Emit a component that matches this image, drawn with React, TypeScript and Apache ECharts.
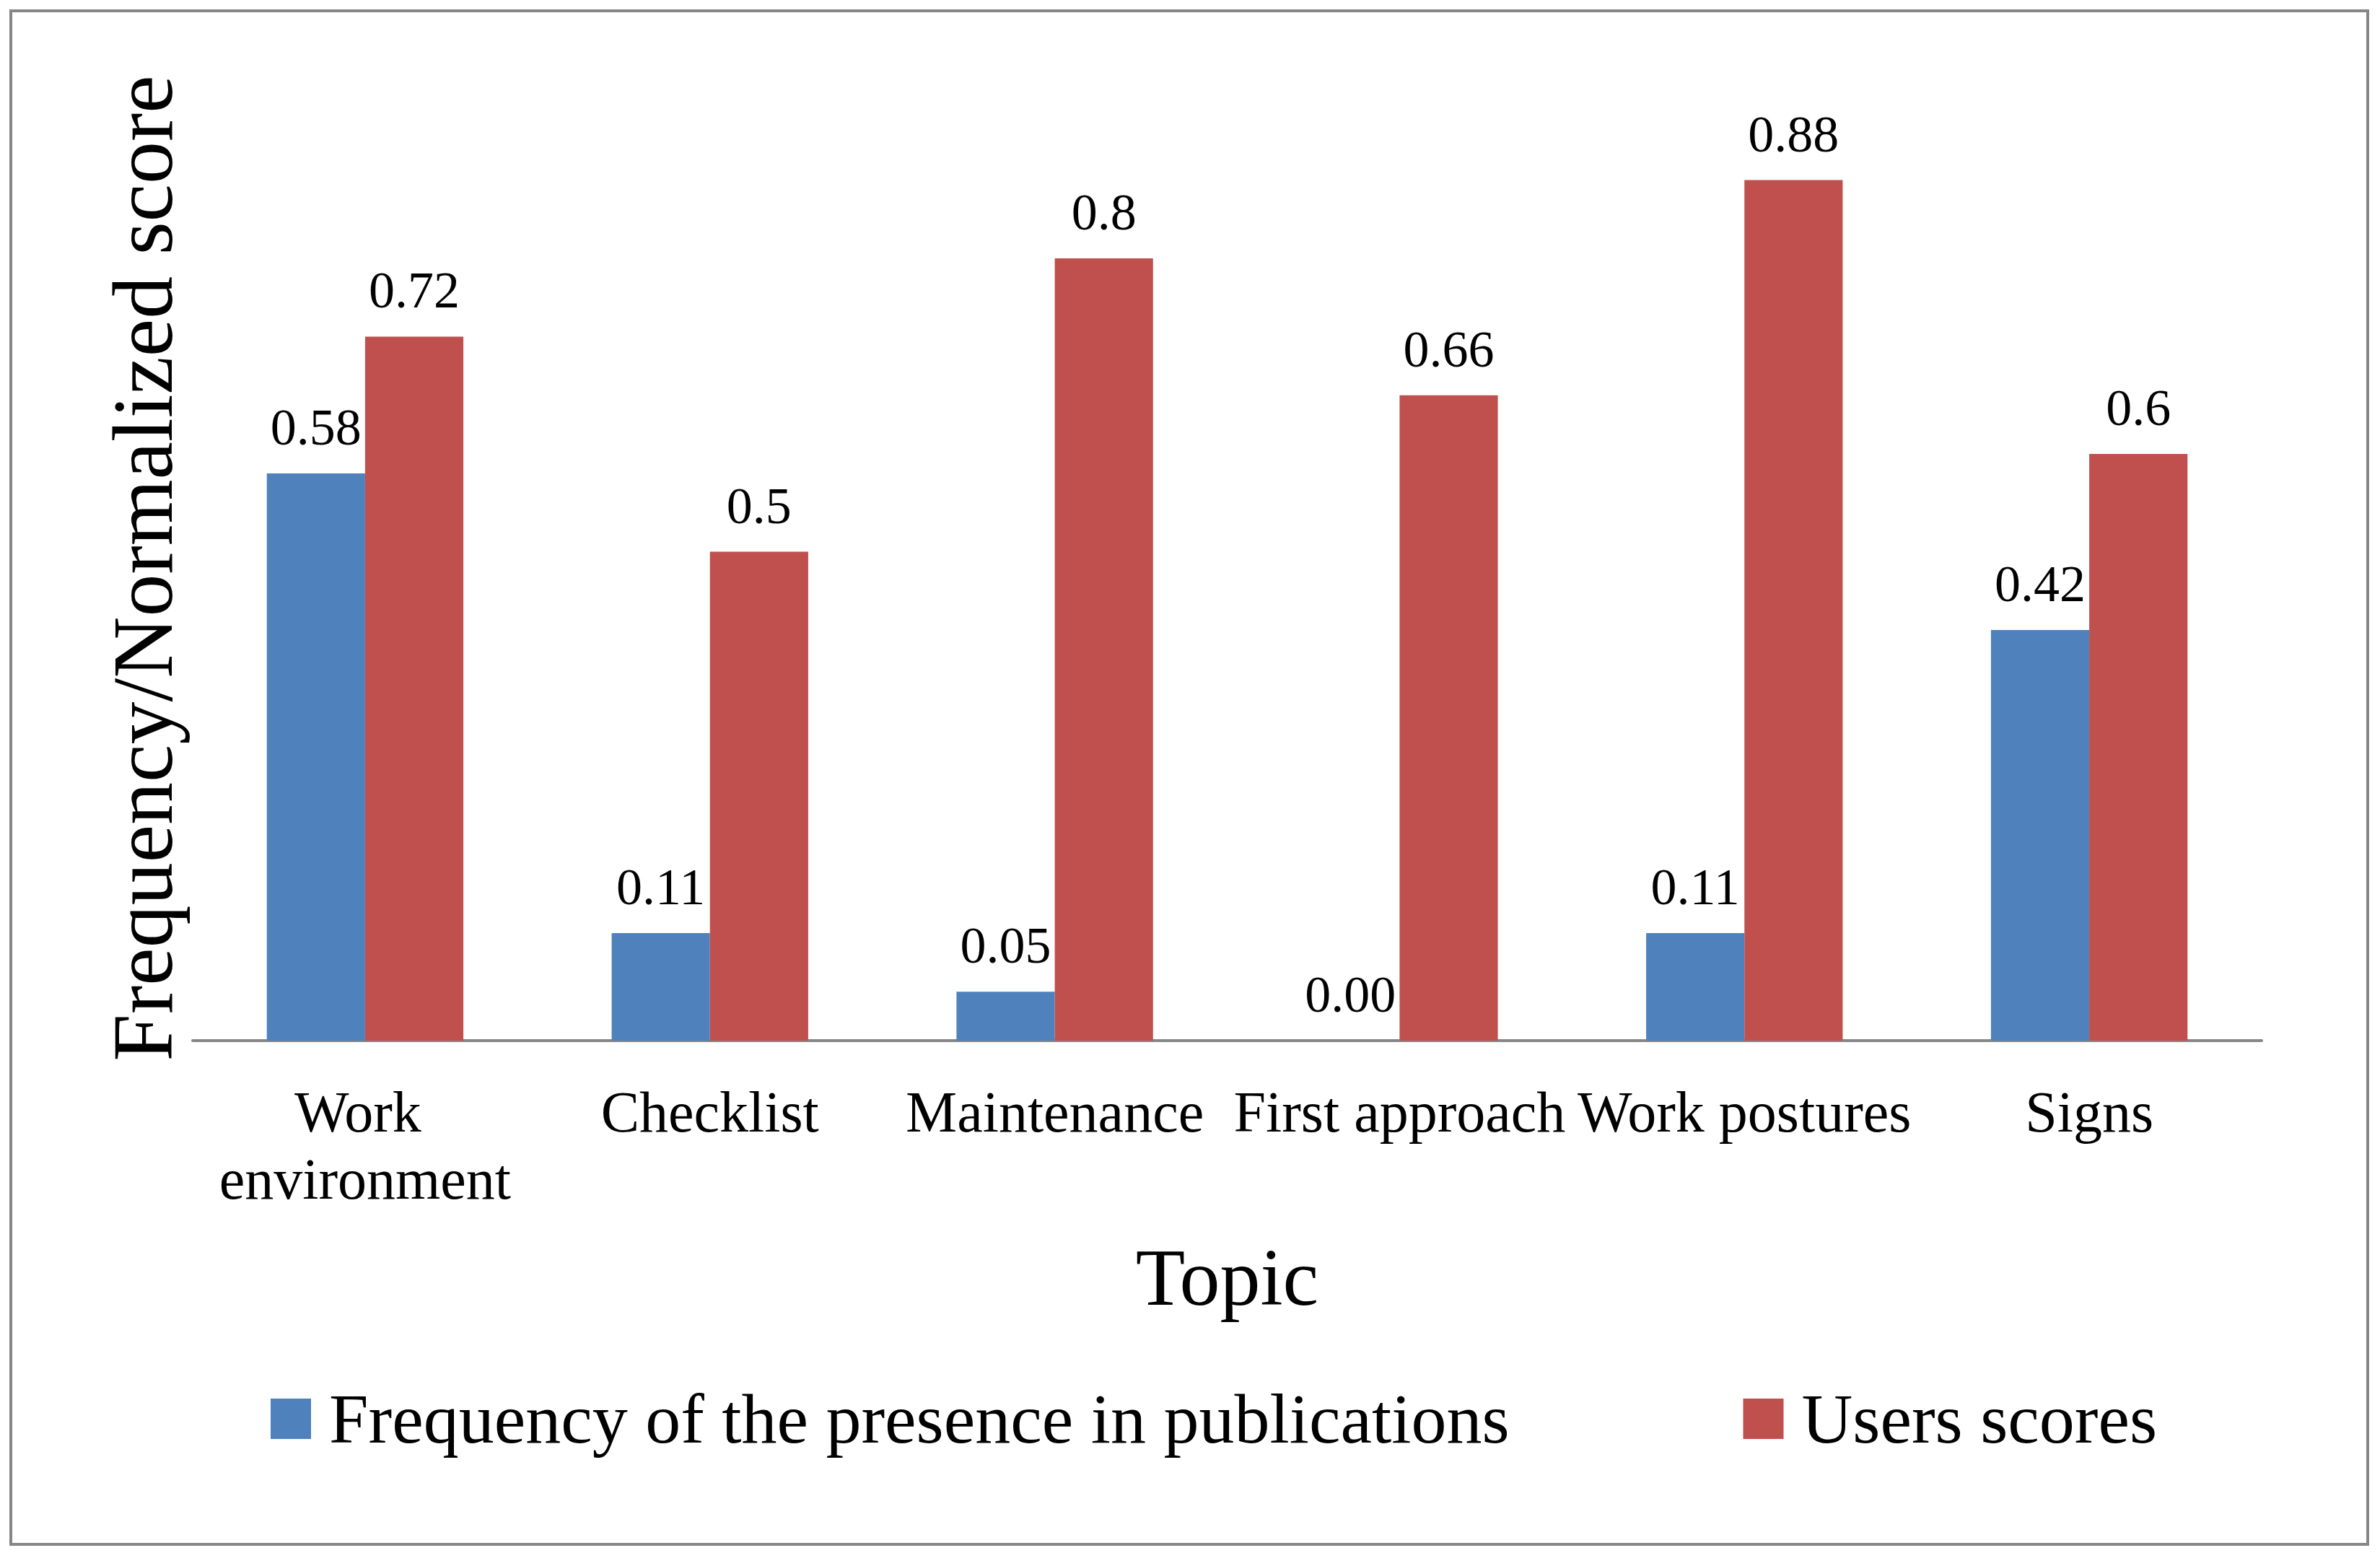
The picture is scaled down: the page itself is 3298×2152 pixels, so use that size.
import React, { useEffect, useRef } from "react";
import * as echarts from "echarts";

const categories = ["Work environment", "Checklist", "Maintenance", "First approach", "Work postures", "Signs"];
const frequencyValues = [0.58, 0.11, 0.05, 0.0, 0.11, 0.42];
const userScores = [0.72, 0.5, 0.8, 0.66, 0.88, 0.6];
const seriesNames = ["Frequency of the presence in publications", "Users scores"];
const xAxisTitle = "Topic";
const yAxisTitle = "Frequency/Normalized score";

const FONT = "'Liberation Serif', 'DejaVu Serif', serif";
const W = 3298;
const H = 2152;

export default function App() {
  const ref = useRef<HTMLDivElement>(null);
  useEffect(() => {
    document.body.style.margin = "0";
    document.body.style.overflow = "hidden";
    const chart = echarts.init(ref.current!, null, { renderer: "svg" });
    chart.setOption({
      animation: false,
      backgroundColor: "#ffffff",
      textStyle: { fontFamily: FONT, color: "#000" },
      graphic: [
        {
          type: "rect",
          shape: { x: 15, y: 15, width: 3266, height: 2125 },
          style: { fill: "none", stroke: "#868686", lineWidth: 4 },
          silent: true,
        },
      ],
      grid: { left: 267, right: 164, top: 87, bottom: 710, containLabel: false },
      legend: {
        left: 370,
        top: 1912,
        itemWidth: 56,
        itemHeight: 56,
        itemGap: 324,
        icon: "rect",
        selectedMode: false,
        textStyle: { fontFamily: FONT, fontSize: 98, color: "#000", padding: [0, 0, 0, 20] },
        data: seriesNames,
      },
      xAxis: {
        type: "category",
        data: categories,
        name: xAxisTitle,
        nameLocation: "middle",
        nameGap: 272,
        nameTextStyle: { fontFamily: FONT, fontSize: 112, color: "#000" },
        axisLine: { show: true, lineStyle: { color: "#868686", width: 4 } },
        axisTick: { show: false },
        axisLabel: {
          interval: 0,
          margin: 52,
          fontFamily: FONT,
          fontSize: 80,
          lineHeight: 93,
          color: "#000",
          width: 500,
          overflow: "break",
          align: "center",
        },
      },
      yAxis: {
        type: "value",
        min: 0,
        max: 1,
        name: yAxisTitle,
        nameLocation: "middle",
        nameGap: 10,
        nameRotate: 90,
        nameTextStyle: { fontFamily: FONT, fontSize: 118, color: "#000", padding: [0, 46, 0, 0] },
        axisLine: { show: false },
        axisTick: { show: false },
        axisLabel: { show: false },
        splitLine: { show: false },
      },
      series: [
        {
          name: seriesNames[0],
          type: "bar",
          data: frequencyValues,
          barGap: "0%",
          barCategoryGap: "43%",
          itemStyle: { color: "#4F81BD" },
          label: {
            show: true,
            position: "top",
            distance: 28,
            fontFamily: FONT,
            fontSize: 72,
            color: "#000",
            formatter: (p: any) => Number(p.value).toFixed(2),
          },
        },
        {
          name: seriesNames[1],
          type: "bar",
          data: userScores,
          barGap: "0%",
          barCategoryGap: "43%",
          itemStyle: { color: "#C0504D" },
          label: {
            show: true,
            position: "top",
            distance: 28,
            fontFamily: FONT,
            fontSize: 72,
            color: "#000",
            formatter: (p: any) => String(p.value),
          },
        },
      ],
    });
    return () => chart.dispose();
  }, []);
  return <div ref={ref} style={{ width: W, height: H }} />;
}
